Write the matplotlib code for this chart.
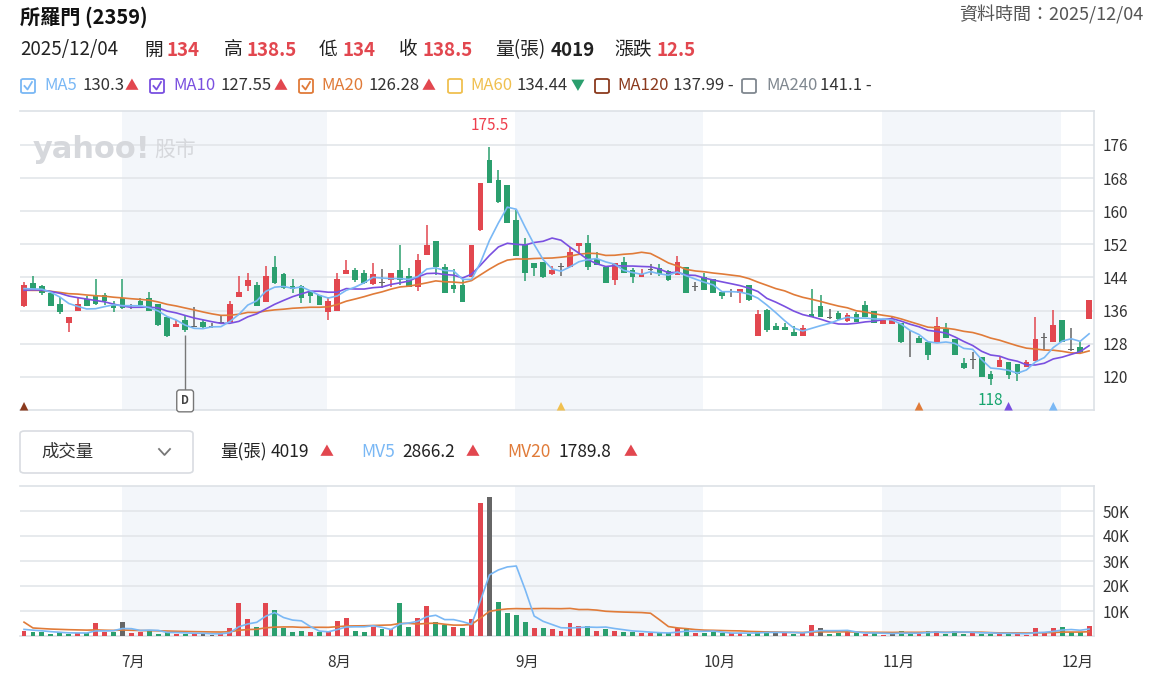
import numpy as np
import pandas as pd
import matplotlib
matplotlib.use("Agg")
import matplotlib.pyplot as plt
import matplotlib.transforms as mtransforms
from matplotlib.patches import FancyBboxPatch
from matplotlib.lines import Line2D

plt.rcParams["font.family"] = ["Noto Sans CJK TC", "DejaVu Sans"]

# ---- data ----
opens = [137.2, 142.7, 141.9, 140.2, 137.6, 132.9, 136.0, 138.7, 139.6, 139.8,
         137.4, 139.0, 137.0, 138.3, 139.0, 137.6, 134.4, 132.0, 133.7, 132.1,
         133.2, 132.1, 133.0, 133.3, 139.4, 141.9, 142.2, 138.0, 146.5, 144.8,
         142.0, 142.0, 140.6, 139.8, 135.7, 136.0, 144.8, 145.8, 145.2, 142.4,
         142.7, 143.4, 145.8, 144.4, 141.8, 149.4, 152.7, 146.5, 142.2, 142.2,
         144.2, 155.5, 172.4, 167.5, 166.3, 157.9, 152.1, 147.4, 147.8, 144.8,
         146.6, 146.5, 151.6, 152.4, 148.4, 146.5, 143.4, 147.8, 145.8, 144.2,
         145.8, 146.4, 145.6, 144.6, 146.5, 141.8, 144.2, 143.6, 140.6, 140.4,
         140.2, 142.2, 129.9, 136.1, 132.3, 132.1, 130.8, 129.9, 135.3, 137.0,
         134.2, 135.5, 133.5, 135.3, 137.4, 136.0, 132.8, 132.8, 133.1, 126.9,
         129.3, 128.3, 128.3, 131.6, 129.1, 123.3, 124.1, 124.7, 120.7, 122.5,
         123.7, 123.1, 122.5, 123.9, 129.4, 128.3, 133.7, 126.5, 127.1, 134.0]
highs = [142.8, 144.4, 142.1, 140.6, 139.4, 134.5, 139.0, 139.5, 143.6, 140.2,
         138.2, 143.6, 137.6, 139.0, 140.6, 137.6, 134.7, 133.7, 134.7, 136.8,
         133.7, 133.0, 134.7, 138.2, 144.4, 145.2, 143.0, 146.8, 149.2, 145.2,
         143.6, 142.2, 140.6, 139.8, 139.4, 145.2, 148.2, 146.2, 145.8, 147.4,
         146.0, 145.2, 151.8, 146.2, 149.7, 156.7, 152.7, 147.3, 146.0, 143.4,
         151.8, 166.9, 175.5, 170.0, 166.3, 160.3, 153.5, 147.6, 147.8, 146.8,
         147.4, 151.4, 152.4, 154.3, 150.2, 146.5, 147.4, 148.9, 146.2, 146.0,
         147.3, 147.3, 145.9, 149.2, 146.5, 143.0, 145.2, 143.6, 140.6, 141.1,
         141.2, 142.2, 136.1, 136.5, 133.1, 132.9, 132.3, 132.5, 141.2, 139.8,
         136.4, 136.0, 135.5, 135.7, 138.4, 136.0, 134.0, 134.7, 133.1, 131.2,
         129.8, 128.3, 134.4, 133.1, 129.1, 124.6, 126.1, 124.7, 121.5, 124.7,
         123.7, 123.1, 124.1, 134.5, 130.5, 136.1, 133.7, 131.8, 128.5, 138.5]
lows = [136.8, 140.9, 139.8, 137.0, 135.3, 130.8, 135.9, 137.0, 137.3, 137.3,
        135.6, 136.3, 136.3, 137.2, 136.0, 132.3, 129.7, 132.0, 130.8, 132.1,
        131.8, 131.8, 133.0, 133.3, 139.2, 140.8, 137.0, 138.0, 142.4, 141.2,
        140.2, 137.8, 137.8, 137.4, 133.7, 136.0, 144.8, 143.0, 142.4, 142.2,
        141.4, 141.8, 142.2, 141.6, 140.7, 149.4, 144.6, 140.2, 140.2, 138.0,
        144.2, 155.2, 166.7, 161.9, 157.1, 149.3, 143.2, 144.4, 143.8, 144.6,
        144.4, 146.5, 149.4, 145.8, 147.0, 142.6, 142.2, 145.0, 142.7, 144.0,
        144.6, 144.3, 143.2, 144.6, 140.2, 140.8, 140.9, 140.2, 138.7, 139.4,
        137.8, 138.4, 129.9, 130.8, 131.2, 131.4, 129.9, 129.9, 134.4, 134.4,
        134.0, 133.8, 133.3, 133.3, 134.5, 133.1, 132.8, 132.8, 128.1, 124.9,
        128.1, 124.1, 128.3, 129.5, 125.2, 121.8, 121.8, 119.9, 118.0, 122.5,
        119.6, 119.1, 122.5, 123.9, 126.5, 128.3, 128.5, 126.2, 125.8, 134.0]
closes = [142.2, 141.1, 140.2, 137.2, 135.7, 134.4, 137.6, 137.1, 137.5, 138.2,
          136.6, 136.6, 137.0, 137.4, 136.0, 132.5, 129.9, 132.8, 131.3, 132.1,
          132.1, 132.1, 133.0, 137.6, 140.6, 143.4, 137.2, 144.4, 142.7, 141.5,
          141.1, 139.0, 139.5, 137.4, 138.2, 143.6, 145.8, 143.4, 142.6, 144.8,
          142.7, 145.2, 143.4, 141.6, 148.2, 151.8, 146.6, 140.2, 141.1, 138.0,
          151.8, 166.9, 166.9, 162.2, 157.1, 149.3, 145.0, 146.2, 144.0, 145.8,
          146.6, 150.2, 152.4, 146.6, 147.0, 142.6, 147.4, 145.0, 144.0, 144.8,
          145.8, 144.8, 143.4, 147.8, 140.3, 141.8, 141.0, 140.2, 139.5, 140.4,
          141.2, 138.6, 135.3, 131.2, 131.2, 131.4, 129.9, 131.7, 134.4, 134.4,
          134.2, 134.0, 135.0, 133.3, 134.5, 133.1, 133.9, 133.9, 128.3, 126.9,
          128.1, 125.3, 132.3, 129.5, 125.2, 122.1, 124.1, 119.9, 119.4, 124.1,
          120.4, 120.7, 123.7, 129.1, 129.4, 132.5, 128.5, 126.5, 126.0, 138.5]
volumes = [2130, 1470, 1470, 930, 1470, 930, 1330, 1330, 5070, 1470,
           1470, 5600, 1070, 1470, 2130, 930, 1470, 930, 930, 1200,
           930, 400, 930, 3070, 13070, 6670, 3600, 13070, 10530, 3070,
           1600, 2000, 1600, 1600, 1600, 6130, 7070, 2000, 1600, 3730,
           2930, 2670, 13070, 3600, 7200, 12000, 5600, 4400, 3600, 3070,
           6670, 53200, 55600, 13600, 9070, 8530, 5600, 3070, 3070, 2670,
           2130, 5070, 4000, 4000, 2130, 2670, 2130, 1600, 1600, 1070,
           1330, 1070, 1070, 3070, 3070, 1070, 1070, 1600, 1070, 1070,
           1070, 1000, 2000, 2000, 1070, 1070, 1000, 1070, 4530, 3070,
           1000, 1070, 1600, 1330, 1000, 1070, 530, 1000, 2000, 1000,
           1000, 2000, 2000, 1000, 2000, 1000, 1330, 1000, 1000, 1000,
           1000, 1000, 530, 3070, 1600, 3070, 3600, 1600, 1600, 4019]
# closes / volumes of the days before the first visible candle (feed the moving averages)
pre_closes = [141.5, 140.0, 142.0, 141.0, 140.5, 139.5, 141.5, 141.0, 140.5, 141.5,
              140.0, 141.0, 140.5, 140.0, 141.0, 141.5, 140.5, 141.0, 141.4]
pre_volumes = [48000, 6000, 5000, 4000, 3500, 3000, 3000, 3500, 4000, 3000,
               2500, 3000, 3500, 3000, 2500, 3000, 2800, 2600, 2700]

month_labels = ["7月", "8月", "9月", "10月", "11月", "12月"]
month_starts = [11, 34, 55, 76, 96, 116]
shaded = [(11, 34), (55, 76), (96, 116)]
price_ticks = [120, 128, 136, 144, 152, 160, 168, 176]
vol_ticks = [10000, 20000, 30000, 40000, 50000]
vol_labels = ["10K", "20K", "30K", "40K", "50K"]
signal_idx = [0, 60, 100, 110, 115]
high_idx, high_val = 52, 175.5
low_idx, low_val = 108, 118
div_idx = 18

# ---- styling ----
W, H = 1162, 692
RED, GREEN, GRAY = "#e2474f", "#2b9f6e", "#666666"
C_MA5, C_MA10, C_MA20 = "#7ab8f5", "#7a50e0", "#e07b39"
C_MA60, C_MA120, C_MA240 = "#f0c050", "#8b3a1e", "#808890"
GRID = "#e3e6ea"
SHADE = "#f3f6fa"
signal_colors = [C_MA120, C_MA60, C_MA20, C_MA10, C_MA5]

o, h, l, c = map(np.array, (opens, highs, lows, closes))
v = np.array(volumes, dtype=float)
n = len(c)
x = np.arange(n)

allc = pd.Series(pre_closes + closes)
ma5 = allc.rolling(5).mean().values[-n:]
ma10 = allc.rolling(10).mean().values[-n:]
ma20 = allc.rolling(20).mean().values[-n:]
allv = pd.Series(pre_volumes + volumes, dtype=float)
mv5 = allv.rolling(5).mean().values[-n:]
mv20 = allv.rolling(20).mean().values[-n:]

fig = plt.figure(figsize=(W / 100, H / 100), dpi=100)


def fx(px):
    return px / W


def fy(py):
    return 1 - py / H


def put(px, py, s, color="#222222", size=12, weight="normal", ha="left"):
    fig.text(fx(px), fy(py), s, color=color, fontsize=size, fontweight=weight,
             ha=ha, va="center")


# ---- header ----
put(20, 17, "所羅門 (2359)", size=14.5, weight="bold", color="#111111")
put(1143, 15, "資料時間：2025/12/04", size=13, color="#555555", ha="right")

row2 = [("2025/12/04", 20, "#222222", "normal"), ("開", 144, "#222222", "normal"),
        ("134", 166, RED, "bold"), ("高", 224, "#222222", "normal"),
        ("138.5", 247, RED, "bold"), ("低", 319, "#222222", "normal"),
        ("134", 343, RED, "bold"), ("收", 399, "#222222", "normal"),
        ("138.5", 422, RED, "bold"), ("量(張)", 495, "#222222", "normal"),
        ("4019", 551, "#222222", "bold"), ("漲跌", 614, "#222222", "normal"),
        ("12.5", 656, RED, "bold")]
for s, px, col, wt in row2:
    put(px, 50, s, color=col, size=13.5, weight=wt)

# box x, name, name x, value, value x, arrow, arrow x, colours, checked
legend = [(21, "MA5", 44, "130.3", 83, "▲", 125, C_MA5, RED, True),
          (150, "MA10", 173, "127.55", 220, "▲", 274, C_MA10, RED, True),
          (299, "MA20", 321, "126.28", 368, "▲", 422, C_MA20, RED, True),
          (448, "MA60", 470, "134.44", 517, "▼", 571, C_MA60, GREEN, False),
          (595, "MA120", 617, "137.99 -", 673, "", 0, C_MA120, RED, False),
          (742, "MA240", 766, "141.1 -", 820, "", 0, C_MA240, RED, False)]
for bx, name, nx, val, vx, arrow, ax_, col, acol, checked in legend:
    fig.add_artist(FancyBboxPatch((fx(bx), fy(93)), 14 / W, 14 / H,
                                  boxstyle="round,pad=0,rounding_size=0.002",
                                  transform=fig.transFigure, fc="white", ec=col, lw=1.3))
    if checked:
        fig.add_artist(Line2D([fx(bx + 3.5), fx(bx + 6.5), fx(bx + 11)],
                              [fy(86), fy(89.5), fy(82)], color=col, lw=1.3,
                              transform=fig.transFigure))
    put(nx, 86, name, color=col, size=12)
    put(vx, 86, val, color="#333333", size=12)
    if arrow:
        put(ax_, 86, arrow, color=acol, size=10)

# volume header row
fig.add_artist(FancyBboxPatch((fx(20), fy(473)), 173 / W, 42 / H,
                              boxstyle="round,pad=0,rounding_size=0.004",
                              transform=fig.transFigure, fc="white", ec="#d9dce1", lw=1.2))
put(41, 452, "成交量", size=12.5, color="#333333")
fig.add_artist(Line2D([fx(159), fx(164.5), fx(170)], [fy(449), fy(455), fy(449)],
                      color="#777777", lw=1.3, transform=fig.transFigure))
put(220, 452, "量(張)", size=12.5)
put(271, 452, "4019", size=12.5)
put(320, 452, "▲", size=10, color=RED)
put(361, 452, "MV5", size=12.5, color=C_MA5)
put(402, 452, "2866.2", size=12.5)
put(466, 452, "▲", size=10, color=RED)
put(507, 452, "MV20", size=12.5, color=C_MA20)
put(559, 452, "1789.8", size=12.5)
put(624, 452, "▲", size=10, color=RED)

# ---- price panel ----
ax1 = fig.add_axes([fx(20), fy(410), (1094 - 20) / W, (410 - 111) / H])
ax2 = fig.add_axes([fx(20), fy(636), (1094 - 20) / W, (636 - 486) / H])

for ax in (ax1, ax2):
    ax.set_xlim(-0.45, n - 0.45)
    for a, b in shaded:
        ax.axvspan(a - 0.1, b - 0.1, color=SHADE, zorder=0, lw=0)
    ax.yaxis.tick_right()
    ax.yaxis.grid(True, color=GRID, lw=1.2)
    ax.set_axisbelow(True)
    ax.set_xticks([])
    ax.spines["left"].set_visible(False)
    for s in ("top", "right", "bottom"):
        ax.spines[s].set_color("#dde1e6")
        ax.spines[s].set_linewidth(1.2)
    ax.tick_params(axis="y", length=0, pad=6, labelsize=11, labelcolor="#333333")

candle_col = np.where(c > o, RED, np.where(c < o, GREEN, GRAY))
ax1.vlines(x, l, h, colors=candle_col, lw=1.1, zorder=3)
ax1.bar(x, np.maximum(np.abs(c - o), 0.15), bottom=np.minimum(o, c), width=0.64,
        color=candle_col, lw=0, zorder=4)
ax1.plot(x, ma20, color=C_MA20, lw=1.2, zorder=5)
ax1.plot(x, ma10, color=C_MA10, lw=1.2, zorder=5)
ax1.plot(x, ma5, color=C_MA5, lw=1.2, zorder=6)

ax1.set_ylim(112.0, 184.2)
ax1.set_yticks(price_ticks)

ax1.text(high_idx, high_val + 5.1, f"{high_val}", color="#ee3f4d", fontsize=11,
         ha="center", va="center")
ax1.text(low_idx, low_val - 3.6, f"{low_val}", color="#16a56e", fontsize=11,
         ha="center", va="center")

# dividend marker
ax1.vlines(div_idx, 116.4, l[div_idx] - 0.8, color="#777777", lw=1, zorder=3)
ax1.text(div_idx, 114.2, "D", fontsize=8, fontweight="bold", color="#444444",
         ha="center", va="center", zorder=6,
         bbox=dict(boxstyle="round,pad=0.4,rounding_size=0.25", fc="white", ec="#777777", lw=1))

ax1.scatter(signal_idx, [112.9] * len(signal_idx), marker="^", s=38,
            c=signal_colors, zorder=6, clip_on=False, lw=0)

# watermark
ax1.text(0.012, 0.87, "yahoo!", transform=ax1.transAxes, fontsize=22,
         fontweight="heavy", color="#d6d8dc", family="DejaVu Sans", va="center", zorder=1)
ax1.text(0.125, 0.87, "股市", transform=ax1.transAxes, fontsize=15,
         color="#d6d8dc", va="center", zorder=1)

# ---- volume panel ----
prev = np.r_[pre_closes[-1], c[:-1]]
vol_col = np.where(c > prev, RED, np.where(c < prev, GREEN, GRAY))
ax2.bar(x, v, width=0.55, color=vol_col, lw=0, zorder=3)
ax2.plot(x, mv20, color=C_MA20, lw=1.2, zorder=4)
ax2.plot(x, mv5, color=C_MA5, lw=1.2, zorder=5)
ax2.set_ylim(0, 60000)
ax2.set_yticks(vol_ticks)
ax2.set_yticklabels(vol_labels)

trans = mtransforms.blended_transform_factory(ax2.transData, fig.transFigure)
for lab, idx in zip(month_labels, month_starts):
    ax2.text(idx - 0.1, fy(662), lab, transform=trans, ha="left", va="center",
             fontsize=11, color="#333333")

fig.savefig("out.png", dpi=100)
